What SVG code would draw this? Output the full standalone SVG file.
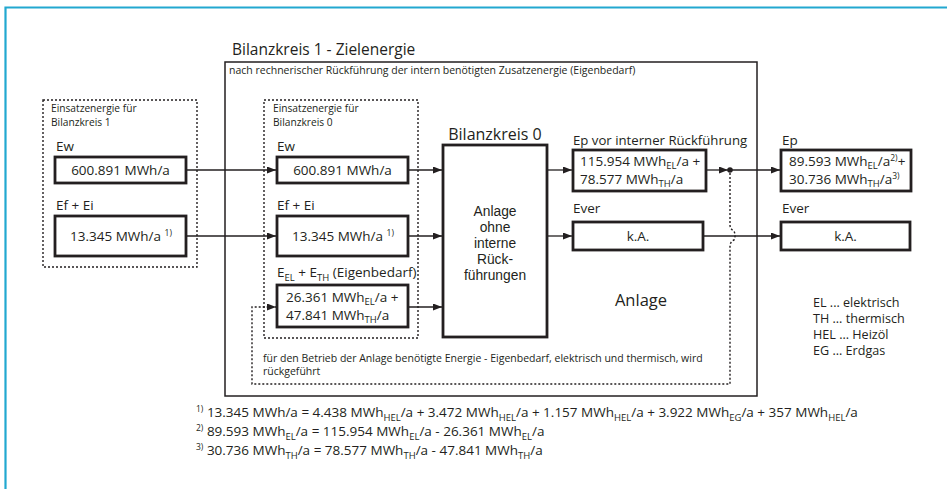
<svg xmlns="http://www.w3.org/2000/svg" width="947" height="489" viewBox="0 0 947 489">
<style>
text{font-family:"Open Sans","Noto Sans","Liberation Sans",sans-serif;fill:#231f20}
.s{font-size:10.5px}
.e{font-size:10.2px}
.m{font-size:13.5px}
.l{font-size:13.5px}
.k{font-size:13.8px;font-family:"Liberation Sans","Open Sans",sans-serif}
.lg{font-size:12.6px}
.sub{font-size:9.5px}
.sup{font-size:8.5px}
.box{fill:#fff;stroke:#231f20;stroke-width:2.8}
.dot{fill:none;stroke:#231f20;stroke-width:1.4;stroke-dasharray:2,2}
.ln{fill:none;stroke:#231f20;stroke-width:1.3}
.frame{fill:none;stroke:#231f20;stroke-width:1.5}
.c{text-anchor:middle}
</style>
<defs>
<marker id="ah" markerWidth="9" markerHeight="7" refX="9" refY="3.5" orient="auto" markerUnits="userSpaceOnUse">
<path d="M0,0 L9,3.5 L0,7 Z" fill="#231f20"/>
</marker>
</defs>
<rect x="0" y="0" width="947" height="489" fill="#fff"/>
<path d="M5.5,489 V7.5 H947" fill="none" stroke="#22a8d0" stroke-width="2.2"/>

<g id="bilanzkreis1">
<text x="232" y="55" style="font-size:15.5px">Bilanzkreis 1 - Zielenergie</text>
<rect x="225" y="62" width="532" height="334" class="frame"/>
<text x="229" y="74" class="s">nach rechnerischer Rückführung der intern benötigten Zusatzenergie (Eigenbedarf)</text>
</g>

<g id="einsatz1">
<rect x="43" y="100" width="154" height="167" class="dot"/>
<text x="51" y="112" class="e">Einsatzenergie für</text>
<text x="51" y="126" class="e">Bilanzkreis 1</text>
</g>
<g id="ew1">
<text x="56" y="151" class="l">Ew</text>
<rect x="55" y="157" width="131" height="26" class="box"/>
<text x="120.5" y="175" class="m c">600.891 MWh/a</text>
</g>
<g id="efei1">
<text x="56" y="210" class="l">Ef + Ei</text>
<rect x="55" y="216" width="131" height="40" class="box"/>
<text x="121" y="241" class="m c">13.345 MWh/a <tspan dy="-5" class="sup">1)</tspan></text>
</g>

<g id="einsatz0">
<rect x="264" y="100" width="154" height="238" class="dot"/>
<text x="273" y="112" class="e">Einsatzenergie für</text>
<text x="273" y="126" class="e">Bilanzkreis 0</text>
</g>
<g id="ew0">
<text x="277" y="151" class="l">Ew</text>
<rect x="277" y="157" width="131" height="26" class="box"/>
<text x="342.5" y="175" class="m c">600.891 MWh/a</text>
</g>
<g id="efei0">
<text x="277" y="210" class="l">Ef + Ei</text>
<rect x="277" y="216" width="131" height="40" class="box"/>
<text x="343" y="241" class="m c">13.345 MWh/a <tspan dy="-5" class="sup">1)</tspan></text>
</g>
<g id="eigenbedarf">
<text x="277" y="277" class="l">E<tspan dy="3.5" class="sub">EL</tspan><tspan dy="-3.5"> + E</tspan><tspan dy="3.5" class="sub">TH</tspan><tspan dy="-3.5"> (Eigenbedarf)</tspan></text>
<rect x="277" y="285" width="131" height="42" class="box"/>
<text x="286" y="302" class="m">26.361 MWh<tspan dy="3" class="sub">EL</tspan><tspan dy="-3">/a +</tspan></text>
<text x="286" y="320" class="m">47.841 MWh<tspan dy="3" class="sub">TH</tspan><tspan dy="-3">/a</tspan></text>
</g>

<g id="bilanzkreis0">
<text x="495" y="140" class="c" style="font-size:16px">Bilanzkreis 0</text>
<rect x="443" y="145" width="104" height="192" class="box"/>
<text class="k c"><tspan x="495" y="216">Anlage</tspan><tspan x="495" dy="16">ohne</tspan><tspan x="495" dy="16">interne</tspan><tspan x="495" dy="16">Rück-</tspan><tspan x="495" dy="16">führungen</tspan></text>
</g>

<g id="ep-vor">
<text x="573" y="145" style="font-size:13.2px">Ep vor interner Rückführung</text>
<rect x="573" y="150" width="133" height="41" class="box"/>
<text x="580" y="166" class="m">115.954 MWh<tspan dy="3" class="sub">EL</tspan><tspan dy="-3">/a +</tspan></text>
<text x="580" y="184" class="m">78.577 MWh<tspan dy="3" class="sub">TH</tspan><tspan dy="-3">/a</tspan></text>
</g>
<g id="ever0">
<text x="573" y="213" class="l">Ever</text>
<rect x="573" y="222" width="130" height="28" class="box"/>
<text x="638" y="241" class="m c">k.A.</text>
</g>

<g id="anlage-label">
<text x="641" y="306" class="c" style="font-size:16.5px">Anlage</text>
</g>
<g id="rueck-label">
<text x="263" y="362" class="s">für den Betrieb der Anlage benötigte Energie - Eigenbedarf, elektrisch und thermisch, wird</text>
<text x="263" y="375" class="s">rückgeführt</text>
</g>

<g id="ep">
<text x="782" y="145" class="l">Ep</text>
<rect x="781" y="150" width="130" height="41" class="box"/>
<text x="789" y="166" class="m">89.593 MWh<tspan dy="3" class="sub">EL</tspan><tspan dy="-3">/a</tspan><tspan dy="-5" class="sup">2)</tspan><tspan dy="5">+</tspan></text>
<text x="789" y="184" class="m">30.736 MWh<tspan dy="3" class="sub">TH</tspan><tspan dy="-3">/a</tspan><tspan dy="-5" class="sup">3)</tspan></text>
</g>
<g id="ever">
<text x="782" y="213" class="l">Ever</text>
<rect x="781" y="222" width="129" height="28" class="box"/>
<text x="845.5" y="241" class="m c">k.A.</text>
</g>

<g id="legend">
<text x="813" y="307" class="lg">EL ... elektrisch</text>
<text x="813" y="323" class="lg">TH ... thermisch</text>
<text x="813" y="339" class="lg">HEL ... Heizöl</text>
<text x="813" y="355" class="lg">EG ... Erdgas</text>
</g>

<g id="footnotes">
<text x="196" y="417" class="m"><tspan dy="-5" class="sup">1)</tspan><tspan dy="5"> 13.345 MWh/a = 4.438 MWh</tspan><tspan dy="3.5" class="sub">HEL</tspan><tspan dy="-3.5">/a + 3.472 MWh</tspan><tspan dy="3.5" class="sub">HEL</tspan><tspan dy="-3.5">/a + 1.157 MWh</tspan><tspan dy="3.5" class="sub">HEL</tspan><tspan dy="-3.5">/a + 3.922 MWh</tspan><tspan dy="3.5" class="sub">EG</tspan><tspan dy="-3.5">/a + 357 MWh</tspan><tspan dy="3.5" class="sub">HEL</tspan><tspan dy="-3.5">/a</tspan></text>
<text x="196" y="436" class="m"><tspan dy="-5" class="sup">2)</tspan><tspan dy="5"> 89.593 MWh</tspan><tspan dy="3.5" class="sub">EL</tspan><tspan dy="-3.5">/a = 115.954 MWh</tspan><tspan dy="3.5" class="sub">EL</tspan><tspan dy="-3.5">/a - 26.361 MWh</tspan><tspan dy="3.5" class="sub">EL</tspan><tspan dy="-3.5">/a</tspan></text>
<text x="196" y="455" class="m"><tspan dy="-5" class="sup">3)</tspan><tspan dy="5"> 30.736 MWh</tspan><tspan dy="3.5" class="sub">TH</tspan><tspan dy="-3.5">/a = 78.577 MWh</tspan><tspan dy="3.5" class="sub">TH</tspan><tspan dy="-3.5">/a - 47.841 MWh</tspan><tspan dy="3.5" class="sub">TH</tspan><tspan dy="-3.5">/a</tspan></text>
</g>

<g id="connectors">
<line x1="187" y1="170" x2="276" y2="170" class="ln" marker-end="url(#ah)"/>
<line x1="187" y1="236" x2="276" y2="236" class="ln" marker-end="url(#ah)"/>
<line x1="409" y1="170" x2="442" y2="170" class="ln" marker-end="url(#ah)"/>
<line x1="409" y1="236" x2="442" y2="236" class="ln" marker-end="url(#ah)"/>
<line x1="409" y1="307" x2="442" y2="307" class="ln" marker-end="url(#ah)"/>
<line x1="548" y1="170" x2="572" y2="170" class="ln" marker-end="url(#ah)"/>
<line x1="548" y1="236" x2="572" y2="236" class="ln" marker-end="url(#ah)"/>
<line x1="707" y1="170" x2="728" y2="170" class="ln" marker-end="url(#ah)"/>
<line x1="730" y1="170" x2="780" y2="170" class="ln" marker-end="url(#ah)"/>
<circle cx="730" cy="170" r="2.8" fill="#231f20"/>
<line x1="704" y1="236" x2="780" y2="236" class="ln" marker-end="url(#ah)"/>
<path d="M730,173 V225 Q730,229 734,231 Q736,236 734,240 Q730,242 730,246 V384 H252 V307 H276" class="dot" marker-end="url(#ah)"/>
</g>
</svg>
